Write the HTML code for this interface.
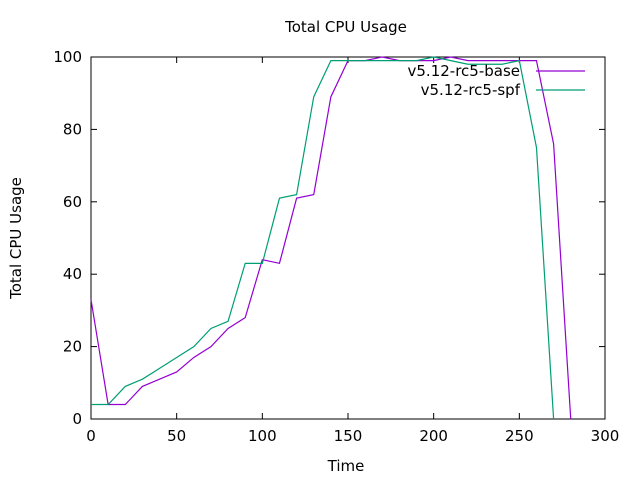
<!DOCTYPE html>
<html><head><meta charset="utf-8"><style>
body{margin:0;background:#fff;font-family:"Liberation Sans","DejaVu Sans",sans-serif;}
svg text{font-family:"DejaVu Sans","Liberation Sans",sans-serif;font-size:15px;fill:#000;}
</style></head><body>
<svg id="chart" width="640" height="480" viewBox="0 0 640 480" xmlns="http://www.w3.org/2000/svg">
<rect width="640" height="480" fill="#fff"/>
<text x="346" y="32" text-anchor="middle">Total CPU Usage</text>
<text x="346" y="471" text-anchor="middle">Time</text>
<text transform="translate(21,238) rotate(-90)" text-anchor="middle">Total CPU Usage</text>
<g id="axes"></g>
<g id="series"></g>
<g id="legend"></g>
</svg>
<script>
const times=[0,10,20,30,40,50,60,70,80,90,100,110,120,130,140,150,160,170,180,190,200,210,220,230,240,250,260,270,280];
const baseValues=[33,4,4,9,11,13,17,20,25,28,44,43,61,62,89,99,99,100,99,99,99,100,99,99,99,99,99,76,0];
const spfValues=[4,4,9,11,14,17,20,25,27,43,43,61,62,89,99,99,99,99,99,99,100,99,98,98,98,99,75,0];
const xTicks=[0,50,100,150,200,250,300];
const yTicks=[0,20,40,60,80,100];
const seriesNames=["v5.12-rc5-base","v5.12-rc5-spf"];
const L=91,R=605,T=57,B=419;
const xs=v=>L+(v/300)*(R-L);
const ys=v=>B-(v/100)*(B-T);
const NS="http://www.w3.org/2000/svg";
function mk(tag,attrs,parent){const e=document.createElementNS(NS,tag);for(const k in attrs)e.setAttribute(k,attrs[k]);parent.appendChild(e);return e;}
const axes=document.getElementById('axes');
const frame=mk('rect',{x:L,y:T,width:R-L,height:B-T,fill:'none',stroke:'#000','stroke-width':1},axes);


xTicks.forEach(t=>{
  const x=xs(t);
  const g=mk('g',{},axes);
  
  
  mk('line',{x1:x,y1:B,x2:x,y2:B-6,stroke:'#000'},g);
  mk('line',{x1:x,y1:T,x2:x,y2:T+6,stroke:'#000'},g);
  const tx=mk('text',{x:x,y:B+22,'text-anchor':'middle'},g);tx.textContent=t;
});
yTicks.forEach(t=>{
  const y=ys(t);
  const g=mk('g',{},axes);
  
  
  mk('line',{x1:L,y1:y,x2:L+6,y2:y,stroke:'#000'},g);
  mk('line',{x1:R,y1:y,x2:R-6,y2:y,stroke:'#000'},g);
  const tx=mk('text',{x:L-9,y:y+5,'text-anchor':'end'},g);tx.textContent=t;
});
const colors=["#9400d3","#009e73"];
const sg=document.getElementById('series');
[baseValues,spfValues].forEach((vals,i)=>{
  const pts=vals.map((v,j)=>xs(times[j])+','+ys(v)).join(' ');
  const p=mk('polyline',{points:pts,fill:'none',stroke:colors[i],'stroke-width':1.2},sg);
  
  
});
const lg=document.getElementById('legend');
seriesNames.forEach((n,i)=>{
  const y=71+i*19;
  const g=mk('g',{},lg);
  
  
  const t=mk('text',{x:520,y:y+5,'text-anchor':'end'},g);t.textContent=n;
  mk('line',{x1:536,y1:y,x2:585,y2:y,stroke:colors[i],'stroke-width':1.2},g);
});
</script>
</body></html>
